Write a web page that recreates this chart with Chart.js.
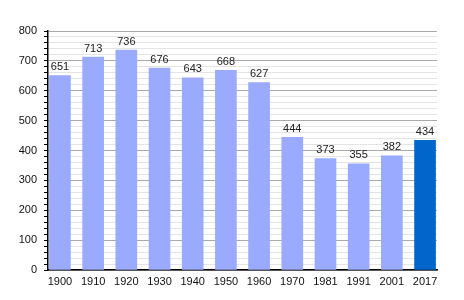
<!DOCTYPE html>
<html><head><meta charset="utf-8">
<script src="https://cdn.jsdelivr.net/npm/chart.js@4/dist/chart.umd.min.js"></script>
<style>html,body{margin:0;padding:0;background:#fff}</style>
</head><body>
<canvas id="c" width="464" height="300"></canvas>
<script>
const categories = ['1900','1910','1920','1930','1940','1950','1960','1970','1981','1991','2001','2017'];
const values = [651, 713, 736, 676, 643, 668, 627, 444, 373, 355, 382, 434];
const yTicks = [0, 100, 200, 300, 400, 500, 600, 700, 800];
const barColors = values.map((v, i) => i === values.length - 1 ? '#0066cc' : '#99aaff');

const labelPlugin = {
  id: 'barLabels',
  afterDatasetsDraw(chart) {
    const ctx = chart.ctx;
    const meta = chart.getDatasetMeta(0);
    ctx.save();
    ctx.font = '11px "Liberation Sans", Arial, sans-serif';
    ctx.fillStyle = '#222';
    ctx.textAlign = 'center';
    ctx.textBaseline = 'bottom';
    meta.data.forEach((el, i) => {
      ctx.fillText(String(values[i]), el.x, el.y - 3);
    });
    ctx.restore();
  }
};

new Chart(document.getElementById('c'), {
  type: 'bar',
  data: {
    datasets: [{
      data: values.map((v, i) => ({x: i, y: v})),
      backgroundColor: barColors,
      borderWidth: 0,
      barThickness: 21
    }]
  },
  options: {
    responsive: false,
    animation: false,
    events: [],
    layout: {padding: {left: 0, top: 31, right: 27, bottom: 0}},
    plugins: {legend: {display: false}, tooltip: {enabled: false}},
    scales: {
      x: {
        type: 'linear',
        offset: false,
        min: -0.36,
        max: 11.36,
        afterBuildTicks(scale) { scale.ticks = categories.map((c, i) => ({value: i})); },
        afterFit(scale) { scale.height = 30; },
        ticks: {
          autoSkip: false,
          maxRotation: 0,
          padding: 5,
          color: '#111',
          font: {family: '"Liberation Sans", Arial, sans-serif', size: 11},
          callback: (v) => categories[Math.round(v)] ?? ''
        },
        grid: {display: false, drawTicks: false, tickLength: 0},
        border: {display: true, color: '#000', width: 1.5}
      },
      y: {
        min: 0,
        max: 800,
        afterFit(scale) { scale.width = 48; },
        ticks: {
          stepSize: 20,
          autoSkip: false,
          padding: 7,
          color: '#111',
          font: {family: '"Liberation Sans", Arial, sans-serif', size: 11},
          callback: (v) => yTicks.includes(v) ? String(v) : ''
        },
        grid: {
          color: (c) => (c.tick && c.tick.value % 100 === 0) ? '#aaaaaa' : '#e4e4e4',
          tickColor: '#000',
          tickLength: 4,
          lineWidth: 1
        },
        border: {display: true, color: '#000', width: 1.5}
      }
    }
  },
  plugins: [labelPlugin]
});
</script>
</body></html>
